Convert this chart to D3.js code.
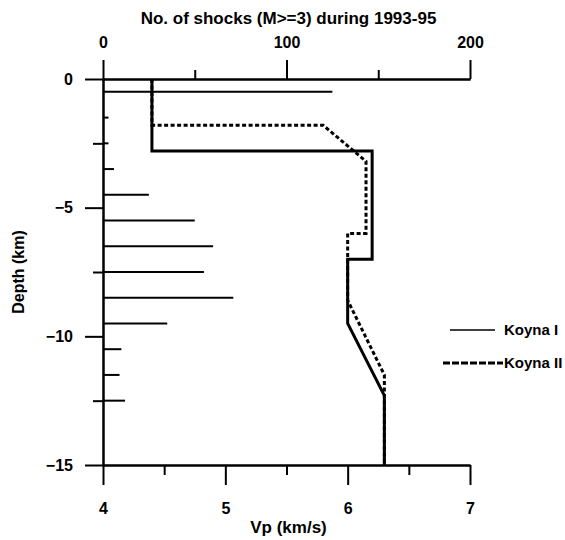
<!DOCTYPE html>
<html>
<head>
<meta charset="utf-8">
<script src="https://cdn.jsdelivr.net/npm/d3@7"></script>
<style>
  body { margin: 0; background: #fff; }
  svg text { font-family: "Liberation Sans", Arial, sans-serif; font-weight: bold; fill: #000; }
  .axis path, .axis line { stroke: #000; stroke-width: 2; }
</style>
</head>
<body>
<div id="chart"></div>
<script>
// histogram: number of shocks (M>=3) in each 1 km depth bin
var shockDepths = [-0.5, -1.5, -2.5, -3.5, -4.5, -5.5, -6.5, -7.5, -8.5, -9.5, -10.5, -11.5, -12.5];
var shockCounts = [125, 3, 3, 6, 25, 50, 60, 55, 71, 35, 10, 9, 12];

// velocity models (Vp km/s vs depth km)
var koyna1Vp    = [4.4, 4.4, 6.2, 6.2, 6.0, 6.0, 6.3, 6.3];
var koyna1Depth = [0, -2.8, -2.8, -7, -7, -9.5, -12.3, -15];
var koyna2Vp    = [4.4, 4.4, 5.8, 6.15, 6.15, 6.0, 6.0, 6.3, 6.3];
var koyna2Depth = [0, -1.8, -1.8, -3.2, -6, -6, -8.6, -11.5, -15];

var vpTicks = [4, 5, 6, 7];
var vpMinor = [4.5, 5.5, 6.5];
var shockTicks = [0, 100, 200];
var shockMinor = [50, 150];
var depthTicks = [0, -5, -10, -15];
var depthMinor = [-2.5, -7.5, -12.5];

var width = 565, height = 540;
var margin = {left: 103, right: 95, top: 79, bottom: 75};

var svg = d3.select('#chart').append('svg')
  .attr('width', width)
  .attr('height', height);

var x = d3.scaleLinear().domain([4, 7]).range([margin.left, width - margin.right]);
var xs = d3.scaleLinear().domain([0, 200]).range([margin.left, width - margin.right]);
var y = d3.scaleLinear().domain([0, -15]).range([margin.top, height - margin.bottom]);

// axes: minor ticks first, then major with labels
function drawAxis(axis, cls, tx, ty) {
  return svg.append('g').attr('class', 'axis ' + cls)
    .attr('transform', `translate(${tx},${ty})`)
    .call(axis);
}

drawAxis(d3.axisTop(xs).tickValues(shockMinor).tickSize(9).tickSizeOuter(0).tickFormat(''), 'top-minor', 0, y(0));
var topAx = drawAxis(d3.axisTop(xs).tickValues(shockTicks).tickSize(19).tickSizeOuter(0).tickPadding(12), 'top', 0, y(0));

drawAxis(d3.axisBottom(x).tickValues(vpMinor).tickSize(10).tickSizeOuter(0).tickFormat(''), 'bottom-minor', 0, y(-15));
var botAx = drawAxis(d3.axisBottom(x).tickValues(vpTicks).tickSize(20).tickSizeOuter(0).tickPadding(18).tickFormat(d3.format('d')), 'bottom', 0, y(-15));

drawAxis(d3.axisLeft(y).tickValues(depthMinor).tickSize(10).tickSizeOuter(0).tickFormat(''), 'left-minor', x(4), 0);
var leftAx = drawAxis(d3.axisLeft(y).tickValues(depthTicks).tickSize(18).tickSizeOuter(0).tickPadding(12).tickFormat(d3.format('d')), 'left', x(4), 0);

svg.selectAll('.axis text').style('font-size', '16px');
svg.selectAll('.axis .domain').attr('stroke-width', 2);

// histogram lines
svg.append('g').selectAll('line.shock')
  .data(shockDepths.map((d, i) => ({depth: d, n: shockCounts[i]})))
  .enter()
  .append('line')
  .attr('class', 'shock')
  .attr('x1', xs(0))
  .attr('x2', d => xs(d.n))
  .attr('y1', d => y(d.depth))
  .attr('y2', d => y(d.depth))
  .attr('stroke', '#000')
  .attr('stroke-width', 2);

var line = d3.line().x(d => x(d[0])).y(d => y(d[1]));

svg.append('path')
  .datum(koyna2Vp.map((v, i) => [v, koyna2Depth[i]]))
  .attr('d', line)
  .attr('fill', 'none')
  .attr('stroke', '#000')
  .attr('stroke-width', 3)
  .attr('stroke-dasharray', '4,2.5');

svg.append('path')
  .datum(koyna1Vp.map((v, i) => [v, koyna1Depth[i]]))
  .attr('d', line)
  .attr('fill', 'none')
  .attr('stroke', '#000')
  .attr('stroke-width', 3);

// titles
svg.append('text')
  .attr('x', (xs(0) + xs(200)) / 2 + 2)
  .attr('y', 24)
  .attr('text-anchor', 'middle')
  .style('font-size', '17px')
  .text('No. of shocks (M>=3) during 1993-95');

svg.append('text')
  .attr('x', (x(4) + x(7)) / 2 + 2)
  .attr('y', 533)
  .attr('text-anchor', 'middle')
  .style('font-size', '17px')
  .text('Vp (km/s)');

svg.append('text')
  .attr('transform', `translate(24,${(y(0) + y(-15)) / 2}) rotate(-90)`)
  .attr('text-anchor', 'middle')
  .style('font-size', '16px')
  .text('Depth (km)');

// legend
var legend = [
  {name: 'Koyna I', x1: 450, x2: 495, y: 330, w: 1.5, dash: null},
  {name: 'Koyna II', x1: 443, x2: 503, y: 363, w: 3, dash: '7,2'}
];
var lg = svg.append('g').selectAll('g').data(legend).enter().append('g');
lg.append('line')
  .attr('x1', d => d.x1).attr('x2', d => d.x2)
  .attr('y1', d => d.y).attr('y2', d => d.y)
  .attr('stroke', '#000')
  .attr('stroke-width', d => d.w)
  .attr('stroke-dasharray', d => d.dash);
lg.append('text')
  .attr('x', 504)
  .attr('y', d => d.y + 5)
  .style('font-size', '15px')
  .text(d => d.name);
</script>
</body>
</html>
